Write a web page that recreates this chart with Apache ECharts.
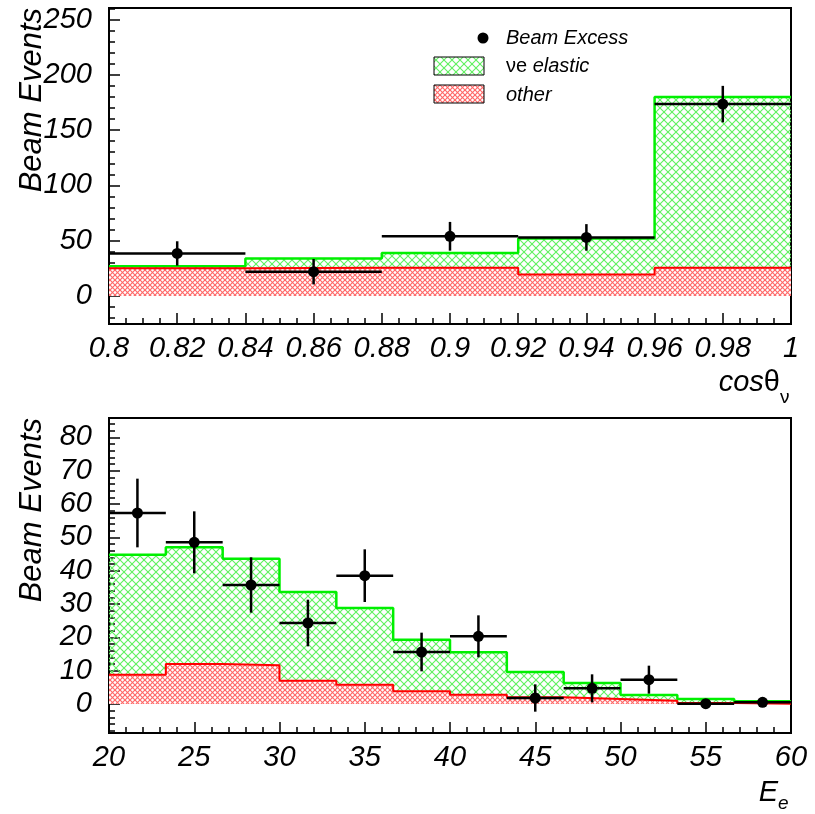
<!DOCTYPE html>
<html>
<head>
<meta charset="utf-8">
<script src="https://cdn.jsdelivr.net/npm/echarts@6/dist/echarts.min.js"></script>
<style>
html,body{margin:0;padding:0;background:#fff;}
#chart{width:815px;height:814px;}
</style>
</head>
<body>
<div id="chart"></div>
<script>
// ---------- data: top panel (cos theta_nu) ----------
const topEdges   = [0.80, 0.84, 0.88, 0.92, 0.96, 1.00];
const topOther   = [25, 25.5, 25.5, 19.5, 25.5];          // "other" background
const topTotal   = [27, 34, 39, 52, 180];                 // other + νe elastic
const topPtX     = [0.82, 0.86, 0.90, 0.94, 0.98];
const topPtY     = [38.5, 22, 54, 53, 173.5];
const topPtErr   = [11, 11.5, 13, 12, 16.5];
const topYLabels = [0, 50, 100, 150, 200, 250];
const topYMinor  = [-20, -10, 10, 20, 30, 40, 60, 70, 80, 90, 110, 120, 130, 140, 160, 170, 180, 190, 210, 220, 230, 240, 260];

// ---------- data: bottom panel (E_e) ----------
const botEdges   = [20, 23.333, 26.667, 30, 33.333, 36.667, 40, 43.333, 46.667, 50, 53.333, 56.667, 60];
const botOther   = [8.8, 12.0, 11.6, 7.0, 5.8, 3.8, 2.8, 2.0, 1.5, 1.0, 0.3, 0.1];
const botTotal   = [44.8, 47.0, 43.6, 33.6, 28.8, 19.3, 15.5, 9.6, 6.3, 2.7, 1.5, 0.8];
const botPtX     = [21.667, 25, 28.333, 31.667, 35, 38.333, 41.667, 45, 48.333, 51.667, 55, 58.333];
const botPtY     = [57.3, 48.5, 35.7, 24.3, 38.5, 15.6, 20.3, 1.8, 4.7, 7.3, 0.1, 0.5];
const botPtErr   = [10.3, 9.3, 8.3, 7.0, 7.9, 5.8, 6.3, 4.1, 4.2, 4.2, 1.0, 0.5];
const botYLabels = [0, 10, 20, 30, 40, 50, 60, 70, 80];
const botYMinor  = [-8, -6, -4, -2, 2, 4, 6, 8, 12, 14, 16, 18, 22, 24, 26, 28, 32, 34, 36, 38, 42, 44, 46, 48, 52, 54, 56, 58, 62, 64, 66, 68, 72, 74, 76, 78, 82, 84];

const legendNames = ['Beam Excess', 'νe elastic', 'other'];

// ---------- helpers ----------
function hatch(period, color, lw, bg) {
  const c = document.createElement('canvas');
  c.width = period; c.height = period;
  const g = c.getContext('2d');
  if (bg) { g.fillStyle = bg; g.fillRect(0, 0, period, period); }
  g.strokeStyle = color; g.lineWidth = lw;
  for (const k of [-period, 0, period]) {
    g.beginPath(); g.moveTo(k, 0); g.lineTo(k + period, period); g.stroke();
    g.beginPath(); g.moveTo(k + period, 0); g.lineTo(k, period); g.stroke();
  }
  return c;
}
const greenPat = { image: hatch(8, '#5ef05e', 1.1, null), repeat: 'repeat' };
const redPat   = { image: hatch(5, '#ff6a6a', 1.2, '#ffffff'), repeat: 'repeat' };

function stepData(edges, vals) {
  return edges.map((e, i) => [e, vals[Math.min(i, vals.length - 1)]]);
}
function pointData(xs, ys, errs, edges) {
  return xs.map((x, i) => [x, ys[i], edges[i], edges[i + 1], errs[i]]);
}
function renderErr(params, api) {
  const x = api.value(0), y = api.value(1), xl = api.value(2), xh = api.value(3), e = api.value(4);
  const c = api.coord([x, y]);
  const l = api.coord([xl, y]), r = api.coord([xh, y]);
  const t = api.coord([x, y + e]), b = api.coord([x, y - e]);
  return {
    type: 'group',
    children: [
      { type: 'line', shape: { x1: l[0], y1: l[1], x2: r[0], y2: r[1] }, style: { stroke: '#000', lineWidth: 2.5 } },
      { type: 'line', shape: { x1: t[0], y1: t[1], x2: b[0], y2: b[1] }, style: { stroke: '#000', lineWidth: 2.5 } },
      { type: 'circle', shape: { cx: c[0], cy: c[1], r: 5.5 }, style: { fill: '#000' } }
    ]
  };
}

const FONT = '"Liberation Sans", Arial, Helvetica, sans-serif';
const tickLabel = { fontFamily: FONT, fontStyle: 'italic', fontSize: 29, color: '#000' };

function xAxisDef(gi, min, max, interval, minorSplit) {
  return {
    type: 'value', gridIndex: gi, min: min, max: max, interval: interval, position: 'bottom',
    axisLine: { show: true, onZero: false, lineStyle: { color: '#000', width: 2 } },
    axisTick: { show: true, inside: true, length: 11, lineStyle: { color: '#000', width: 1.5 } },
    minorTick: { show: true, splitNumber: minorSplit, length: 6, lineStyle: { color: '#000', width: 1.5 } },
    axisLabel: Object.assign({ margin: 10 }, tickLabel),
    splitLine: { show: false }
  };
}
function yAxisMajor(gi, min, max, labels) {
  return {
    type: 'value', gridIndex: gi, min: min, max: max, position: 'left',
    axisLine: { show: true, onZero: false, lineStyle: { color: '#000', width: 2 } },
    axisTick: { show: true, inside: true, length: 11, customValues: labels, lineStyle: { color: '#000', width: 1.5 } },
    axisLabel: Object.assign({ margin: 17, customValues: labels }, tickLabel),
    splitLine: { show: false }
  };
}
function yAxisMinor(gi, min, max, minor) {
  return {
    type: 'value', gridIndex: gi, min: min, max: max, position: 'left', offset: 0,
    axisLine: { show: false },
    axisTick: { show: true, inside: true, length: 6, customValues: minor, lineStyle: { color: '#000', width: 1.5 } },
    axisLabel: { show: false, customValues: minor },
    splitLine: { show: false }
  };
}

const chart = echarts.init(document.getElementById('chart'), null, { renderer: 'canvas' });

const option = {
  animation: false,
  backgroundColor: '#fff',
  grid: [
    { left: 109, right: 24, top: 8, height: 316, show: true, borderColor: '#000', borderWidth: 2, backgroundColor: 'transparent' },
    { left: 109, right: 24, top: 418, height: 315, show: true, borderColor: '#000', borderWidth: 2, backgroundColor: 'transparent' }
  ],
  xAxis: [
    xAxisDef(0, 0.8, 1.0, 0.02, 4),
    xAxisDef(1, 20, 60, 5, 5)
  ],
  yAxis: [
    yAxisMajor(0, -25.3, 260.4, topYLabels),
    yAxisMinor(0, -25.3, 260.4, topYMinor),
    yAxisMajor(1, -8.7, 85.8, botYLabels),
    yAxisMinor(1, -8.7, 85.8, botYMinor)
  ],
  series: [
    { name: legendNames[1], type: 'line', xAxisIndex: 0, yAxisIndex: 0, step: 'end', symbol: 'none',
      data: stepData(topEdges, topTotal), lineStyle: { color: '#00f000', width: 2.5 }, areaStyle: { color: greenPat, opacity: 1 }, z: 2 },
    { name: legendNames[2], type: 'line', xAxisIndex: 0, yAxisIndex: 0, step: 'end', symbol: 'none',
      data: stepData(topEdges, topOther), lineStyle: { color: '#ff0000', width: 2 }, areaStyle: { color: redPat, opacity: 1 }, z: 3 },
    { name: legendNames[0], type: 'custom', xAxisIndex: 0, yAxisIndex: 0, renderItem: renderErr,
      encode: { x: 0, y: 1 }, data: pointData(topPtX, topPtY, topPtErr, topEdges), z: 5 },

    { name: legendNames[1], type: 'line', xAxisIndex: 1, yAxisIndex: 2, step: 'end', symbol: 'none',
      data: stepData(botEdges, botTotal), lineStyle: { color: '#00f000', width: 2.5 }, areaStyle: { color: greenPat, opacity: 1 }, z: 2 },
    { name: legendNames[2], type: 'line', xAxisIndex: 1, yAxisIndex: 2, step: 'end', symbol: 'none',
      data: stepData(botEdges, botOther), lineStyle: { color: '#ff0000', width: 2 }, areaStyle: { color: redPat, opacity: 1 }, z: 3 },
    { name: legendNames[0], type: 'custom', xAxisIndex: 1, yAxisIndex: 2, renderItem: renderErr,
      encode: { x: 0, y: 1 }, data: pointData(botPtX, botPtY, botPtErr, botEdges), z: 5 }
  ],
  graphic: [
    // y axis titles
    { type: 'text', x: 32, y: 8, rotation: Math.PI / 2, z: 10,
      style: { text: 'Beam Events', font: 'italic 31px ' + FONT, fill: '#000', align: 'right', verticalAlign: 'middle' } },
    { type: 'text', x: 32, y: 418, rotation: Math.PI / 2, z: 10,
      style: { text: 'Beam Events', font: 'italic 31px ' + FONT, fill: '#000', align: 'right', verticalAlign: 'middle' } },
    // x axis titles
    { type: 'text', x: 780, y: 383, z: 10,
      style: { text: '{a|cos}{b|θ}', align: 'right', verticalAlign: 'middle',
        rich: { a: { font: 'italic 29px ' + FONT, fill: '#000' }, b: { font: '29px ' + FONT, fill: '#000' } } } },
    { type: 'text', x: 780, y: 398, z: 10,
      style: { text: 'ν', font: '19px ' + FONT, fill: '#000', align: 'left', verticalAlign: 'middle' } },
    { type: 'text', x: 778, y: 793, z: 10,
      style: { text: 'E', font: 'italic 29px ' + FONT, fill: '#000', align: 'right', verticalAlign: 'middle' } },
    { type: 'text', x: 778, y: 804, z: 10,
      style: { text: 'e', font: 'italic 19px ' + FONT, fill: '#000', align: 'left', verticalAlign: 'middle' } },
    // legend
    { type: 'circle', shape: { cx: 483, cy: 38, r: 5.5 }, style: { fill: '#000' }, z: 10 },
    { type: 'text', x: 506, y: 38, z: 10,
      style: { text: legendNames[0], font: 'italic 20px ' + FONT, fill: '#000', align: 'left', verticalAlign: 'middle' } },
    { type: 'rect', shape: { x: 434, y: 57, width: 50, height: 18 }, style: { fill: greenPat, stroke: '#000', lineWidth: 1 }, z: 10 },
    { type: 'text', x: 506, y: 66, z: 10,
      style: { text: '{n|νe\u00a0}{i|elastic}', align: 'left', verticalAlign: 'middle',
        rich: { n: { font: '20px ' + FONT, fill: '#000' }, i: { font: 'italic 20px ' + FONT, fill: '#000' } } } },
    { type: 'rect', shape: { x: 434, y: 85, width: 50, height: 18 }, style: { fill: redPat, stroke: '#000', lineWidth: 1 }, z: 10 },
    { type: 'text', x: 506, y: 95, z: 10,
      style: { text: legendNames[2], font: 'italic 20px ' + FONT, fill: '#000', align: 'left', verticalAlign: 'middle' } }
  ]
};
chart.setOption(option);
</script>
</body>
</html>
